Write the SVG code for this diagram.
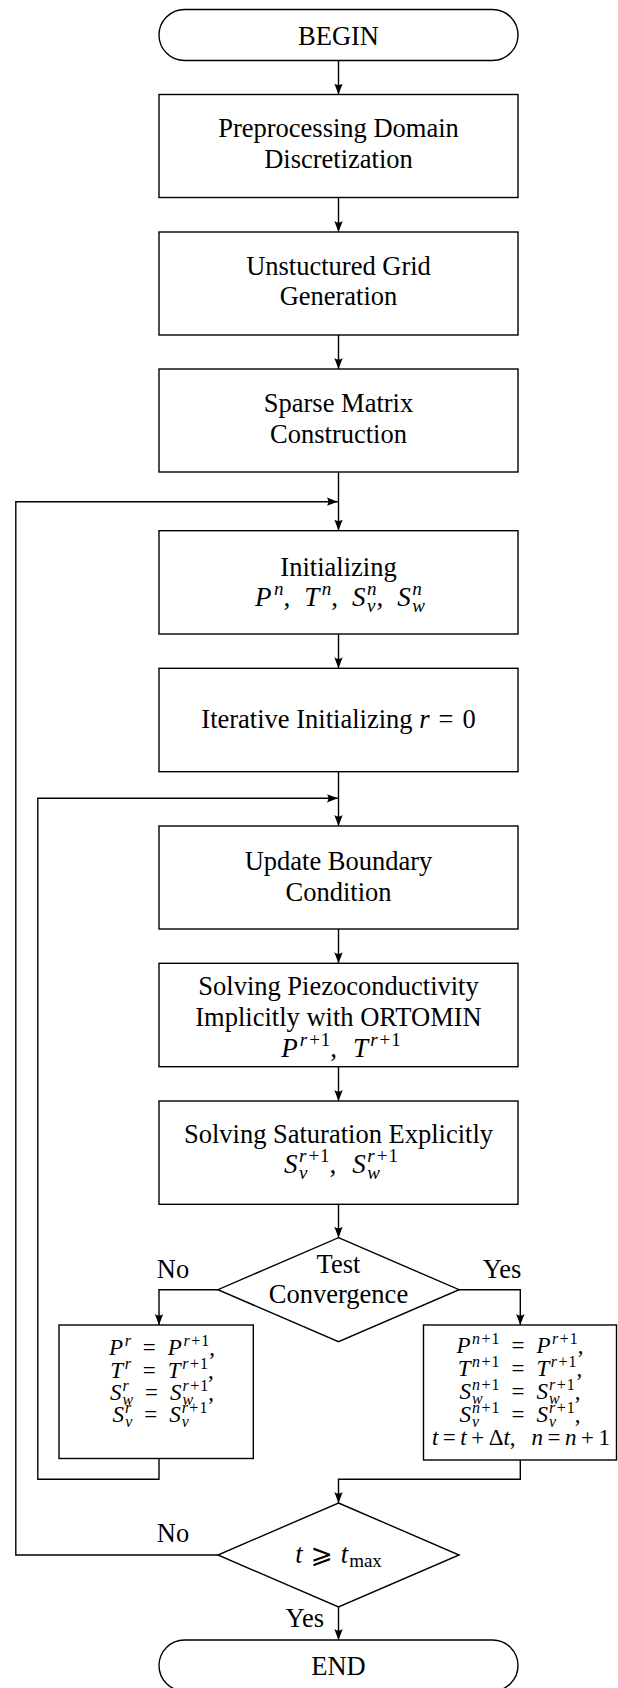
<svg xmlns="http://www.w3.org/2000/svg" width="618" height="1688" viewBox="0 0 618 1688">
<style>
.t{font-family:"Liberation Serif","Times New Roman","DejaVu Serif",serif;font-size:26.5px;text-anchor:middle;fill:#000}
.mb{font-size:27px}
.m{font-family:"Liberation Serif","Times New Roman","DejaVu Serif",serif;font-size:23px;text-anchor:middle;fill:#000}
.i{font-style:italic}
.s{font-size:19px}
.ms{font-size:16px}
.sym{font-family:"DejaVu Serif","DejaVu Sans",serif;font-style:normal}
.n{fill:#fff;stroke:#000;stroke-width:1.4}
.c{fill:none;stroke:#000;stroke-width:1.4}
</style>
<defs>
<marker id="ah" markerWidth="12" markerHeight="10" refX="11" refY="5" orient="auto" markerUnits="userSpaceOnUse">
<path d="M11,5 L0,0.8 Q3.2,5 0,9.2 Z" fill="#000"/>
</marker>
</defs>
<rect width="618" height="1688" fill="#fff"/>
<g id="connectors">
<path class="c" d="M338.5,60.5 V94.5" marker-end="url(#ah)"/>
<path class="c" d="M338.5,197.5 V232" marker-end="url(#ah)"/>
<path class="c" d="M338.5,335 V369" marker-end="url(#ah)"/>
<path class="c" d="M338.5,472 V530.5" marker-end="url(#ah)"/>
<path class="c" d="M338.5,634 V668.3" marker-end="url(#ah)"/>
<path class="c" d="M338.5,771.7 V826" marker-end="url(#ah)"/>
<path class="c" d="M338.5,929 V963.3" marker-end="url(#ah)"/>
<path class="c" d="M338.5,1066.7 V1101" marker-end="url(#ah)"/>
<path class="c" d="M338.5,1204.3 V1237.7" marker-end="url(#ah)"/>
<path class="c" d="M217.9,1289.7 H159 V1325" marker-end="url(#ah)"/>
<path class="c" d="M459.1,1289.7 H520.3 V1325" marker-end="url(#ah)"/>
<path class="c" d="M159,1458.5 V1479.3 H37.8 V798.3 H337.8" marker-end="url(#ah)"/>
<path class="c" d="M520.3,1460 V1479.3 H338.5 V1503" marker-end="url(#ah)"/>
<path class="c" d="M217.9,1555 H15.8 V501.7 H337.8" marker-end="url(#ah)"/>
<path class="c" d="M338.5,1607 V1640" marker-end="url(#ah)"/>
<text class="t" x="173" y="1278">No</text>
<text class="t" x="502" y="1278">Yes</text>
<text class="t" x="173" y="1541.7">No</text>
<text class="t" x="304.7" y="1626.7">Yes</text>
</g>
<g id="begin">
<rect class="n" x="159" y="9.5" width="359" height="51" rx="25.5"/>
<text class="t" x="338.5" y="44.5">BEGIN</text>
</g>
<g id="preprocessing">
<rect class="n" x="159" y="94.5" width="359" height="103"/>
<text class="t" x="338.5" y="137">Preprocessing Domain</text>
<text class="t" x="338.5" y="167.5">Discretization</text>
</g>
<g id="grid">
<rect class="n" x="159" y="232" width="359" height="103"/>
<text class="t" x="338.5" y="274.5">Unstuctured Grid</text>
<text class="t" x="338.5" y="305">Generation</text>
</g>
<g id="sparse">
<rect class="n" x="159" y="369" width="359" height="103"/>
<text class="t" x="338.5" y="412">Sparse Matrix</text>
<text class="t" x="338.5" y="442.5">Construction</text>
</g>
<g id="initializing">
<rect class="n" x="159" y="530.7" width="359" height="103.3"/>
<text class="t" x="338.5" y="575.7">Initializing</text>
<text class="t mb" x="340" y="606"><tspan class="i">P</tspan><tspan class="s i" dx="2.5" dy="-11">n</tspan><tspan dy="11">,</tspan><tspan class="i" dx="14">T</tspan><tspan class="s i" dx="2.5" dy="-11">n</tspan><tspan dy="11">,</tspan><tspan class="i" dx="14">S</tspan><tspan class="s i" dx="1.5" dy="6">ν</tspan><tspan class="s i" dx="-8.5" dy="-17">n</tspan><tspan dy="11">,</tspan><tspan class="i" dx="14">S</tspan><tspan class="s i" dx="1.5" dy="-11">n</tspan><tspan class="s i" dx="-9.5" dy="17">w</tspan></text>
</g>
<g id="iterative">
<rect class="n" x="159" y="668.3" width="359" height="103.4"/>
<text class="t" x="338.5" y="728">Iterative Initializing <tspan class="i">r</tspan><tspan dx="9">=</tspan><tspan dx="9">0</tspan></text>
</g>
<g id="boundary">
<rect class="n" x="159" y="826" width="359" height="103"/>
<text class="t" x="338.5" y="870">Update Boundary</text>
<text class="t" x="338.5" y="900.5">Condition</text>
</g>
<g id="piezo">
<rect class="n" x="159" y="963.3" width="359" height="103.4"/>
<text class="t" x="338.5" y="995">Solving Piezoconductivity</text>
<text class="t" x="338.5" y="1026">Implicitly with ORTOMIN</text>
<text class="t mb" x="341" y="1056.7"><tspan class="i">P</tspan><tspan class="s i" dx="2" dy="-11">r</tspan><tspan class="s" dx="2">+</tspan><tspan class="s" dx="1">1</tspan><tspan dy="11">,</tspan><tspan class="i" dx="16">T</tspan><tspan class="s i" dx="2" dy="-11">r</tspan><tspan class="s" dx="2">+</tspan><tspan class="s" dx="1">1</tspan></text>
</g>
<g id="saturation">
<rect class="n" x="159" y="1101" width="359" height="103.3"/>
<text class="t" x="338.5" y="1143.3">Solving Saturation Explicitly</text>
<text class="t mb" x="341" y="1173.3"><tspan class="i">S</tspan><tspan class="s i" dx="1.5" dy="6">ν</tspan><tspan class="s i" dx="-8.5" dy="-17">r</tspan><tspan class="s" dx="2">+</tspan><tspan class="s" dx="1">1</tspan><tspan dy="11">,</tspan><tspan class="i" dx="16">S</tspan><tspan class="s i" dx="1.5" dy="6">w</tspan><tspan class="s i" dx="-12.7" dy="-17">r</tspan><tspan class="s" dx="2">+</tspan><tspan class="s" dx="1">1</tspan></text>
</g>
<g id="test">
<polygon class="n" points="338.5,1237.7 459.1,1289.7 338.5,1341.7 217.9,1289.7"/>
<text class="t" x="338.5" y="1273.3">Test</text>
<text class="t" x="338.5" y="1303.3">Convergence</text>
</g>
<g id="keep-iterating">
<rect class="n" x="59" y="1325" width="194.3" height="133.5"/>
<text class="m" x="162" y="1355"><tspan class="i">P</tspan><tspan class="ms i" dx="1.5" dy="-9">r</tspan><tspan dx="12" dy="9">=</tspan><tspan class="i" dx="12">P</tspan><tspan class="ms i" dx="1.5" dy="-9">r</tspan><tspan class="ms" dx="1.5">+</tspan><tspan class="ms" dx="1">1</tspan><tspan dy="9">,</tspan></text>
<text class="m" x="162" y="1377.5"><tspan class="i">T</tspan><tspan class="ms i" dx="1.5" dy="-9">r</tspan><tspan dx="12" dy="9">=</tspan><tspan class="i" dx="12">T</tspan><tspan class="ms i" dx="1.5" dy="-9">r</tspan><tspan class="ms" dx="1.5">+</tspan><tspan class="ms" dx="1">1</tspan><tspan dy="9">,</tspan></text>
<text class="m" x="162" y="1400"><tspan class="i">S</tspan><tspan class="ms i" dx="1" dy="-9">r</tspan><tspan class="ms i" dx="-6.2" dy="14">w</tspan><tspan dx="12" dy="-5">=</tspan><tspan class="i" dx="12">S</tspan><tspan class="ms i" dx="1" dy="5">w</tspan><tspan class="ms i" dx="-10.7" dy="-14">r</tspan><tspan class="ms" dx="1.5">+</tspan><tspan class="ms" dx="1">1</tspan><tspan dy="9">,</tspan></text>
<text class="m" x="160" y="1422"><tspan class="i">S</tspan><tspan class="ms i" dx="1" dy="-9">r</tspan><tspan class="ms i" dx="-6.2" dy="14">ν</tspan><tspan dx="12" dy="-5">=</tspan><tspan class="i" dx="12">S</tspan><tspan class="ms i" dx="1" dy="5">ν</tspan><tspan class="ms i" dx="-7.2" dy="-14">r</tspan><tspan class="ms" dx="1.5">+</tspan><tspan class="ms" dx="1">1</tspan></text>
</g>
<g id="advance-time">
<rect class="n" x="423.5" y="1325" width="193" height="135"/>
<text class="m" x="520" y="1353"><tspan class="i">P</tspan><tspan class="ms i" dx="1.5" dy="-9">n</tspan><tspan class="ms" dx="1.5">+</tspan><tspan class="ms" dx="1">1</tspan><tspan dx="12" dy="9">=</tspan><tspan class="i" dx="12">P</tspan><tspan class="ms i" dx="1.5" dy="-9">r</tspan><tspan class="ms" dx="1.5">+</tspan><tspan class="ms" dx="1">1</tspan><tspan dy="9">,</tspan></text>
<text class="m" x="520" y="1375.5"><tspan class="i">T</tspan><tspan class="ms i" dx="1.5" dy="-9">n</tspan><tspan class="ms" dx="1.5">+</tspan><tspan class="ms" dx="1">1</tspan><tspan dx="12" dy="9">=</tspan><tspan class="i" dx="12">T</tspan><tspan class="ms i" dx="1.5" dy="-9">r</tspan><tspan class="ms" dx="1.5">+</tspan><tspan class="ms" dx="1">1</tspan><tspan dy="9">,</tspan></text>
<text class="m" x="520" y="1398.5"><tspan class="i">S</tspan><tspan class="ms i" dx="1" dy="5">w</tspan><tspan class="ms i" dx="-10.7" dy="-14">n</tspan><tspan class="ms" dx="1.5">+</tspan><tspan class="ms" dx="1">1</tspan><tspan dx="12" dy="9">=</tspan><tspan class="i" dx="12">S</tspan><tspan class="ms i" dx="1" dy="5">w</tspan><tspan class="ms i" dx="-10.7" dy="-14">r</tspan><tspan class="ms" dx="1.5">+</tspan><tspan class="ms" dx="1">1</tspan><tspan dy="9">,</tspan></text>
<text class="m" x="520" y="1421.5"><tspan class="i">S</tspan><tspan class="ms i" dx="1" dy="5">ν</tspan><tspan class="ms i" dx="-7.2" dy="-14">n</tspan><tspan class="ms" dx="1.5">+</tspan><tspan class="ms" dx="1">1</tspan><tspan dx="12" dy="9">=</tspan><tspan class="i" dx="12">S</tspan><tspan class="ms i" dx="1" dy="5">ν</tspan><tspan class="ms i" dx="-7.2" dy="-14">r</tspan><tspan class="ms" dx="1.5">+</tspan><tspan class="ms" dx="1">1</tspan><tspan dy="9">,</tspan></text>
<text class="m" x="521" y="1445"><tspan class="i">t</tspan><tspan dx="4.5">=</tspan><tspan class="i" dx="4.5">t</tspan><tspan dx="4.5">+</tspan><tspan dx="4.5">Δ</tspan><tspan class="i">t</tspan><tspan>,</tspan><tspan class="i" dx="16">n</tspan><tspan dx="4.5">=</tspan><tspan class="i" dx="4.5">n</tspan><tspan dx="4.5">+</tspan><tspan dx="4.5">1</tspan></text>
</g>
<g id="time-check">
<polygon class="n" points="338.5,1503 459.1,1555 338.5,1607 217.9,1555"/>
<text class="t" x="338.5" y="1563.3"><tspan class="i">t</tspan><tspan class="sym" dx="8">⩾</tspan><tspan class="i" dx="8">t</tspan><tspan class="s" dx="1" dy="4">max</tspan></text>
</g>
<g id="end">
<rect class="n" x="159" y="1640" width="359" height="51" rx="25.5"/>
<text class="t" x="338.5" y="1675">END</text>
</g>
</svg>
